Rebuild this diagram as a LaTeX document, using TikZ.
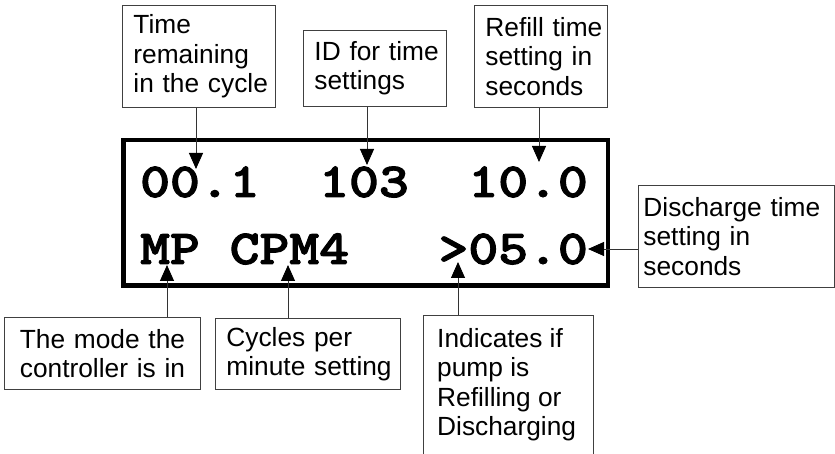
\documentclass[tikz,border=0pt]{standalone}
\usepackage{fontspec}
\usepackage{graphicx}
\setmainfont{Liberation Sans}
\newfontfamily\lcdfont{lmmonolt10-bold.otf}[FakeBold=2]
\usetikzlibrary{arrows.meta}
\newcommand\lcdline[1]{\scalebox{1.16}[1]{\lcdfont\fontsize{49pt}{49pt}\selectfont #1}}
\begin{document}
\begin{tikzpicture}[x=1pt,y=-1pt,
  lbl/.style={draw=black!75, line width=0.9pt, anchor=north west, align=left,
    inner ysep=0pt, inner xsep=11pt, font=\fontsize{26.3pt}{29.5pt}\selectfont},
  lcdbox/.style={draw=black, line width=4.5pt, minimum width=484.5pt,
    minimum height=145.5pt, inner sep=0pt},
  lcdtext/.style={anchor=base west, inner sep=0pt},
  arr/.style={draw=black!80, line width=0.9pt,
    -{Triangle[width=14pt,length=16pt,color=black]}}
]
\useasboundingbox (0,0) rectangle (835,454);
\clip (0,0) rectangle (835,454);

% LCD display
\node[lcdbox] (lcd) at (365.5,213) {};
\node[lcdtext] (r1) at (140,197) {\lcdline{00.1~~103~~10.0}};
\node[lcdtext] (r2) at (140,264) {\lcdline{MP~CPM4~~~>05.0}};

% label boxes
\node[lbl, text width=131pt, minimum height=102pt] (b1) at (122,5)
  {\mbox{Time}\\\mbox{remaining}\\\mbox{in the cycle}};
\node[lbl, text width=121pt, minimum height=76pt] (b2) at (303,30)
  {\mbox{ID for time}\\\mbox{settings}};
\node[lbl, text width=111pt, minimum height=102pt] (b3) at (474,5)
  {\mbox{Refill time}\\\mbox{setting in}\\\mbox{seconds}};
\node[lbl, inner xsep=5pt, text width=186pt, minimum height=102pt] (b4) at (638,185)
  {\mbox{Discharge time}\\\mbox{setting in}\\\mbox{seconds}};
\node[lbl, align=center, text width=174pt, minimum height=72pt] (b5) at (4,317)
  {\mbox{The mode the}\\\mbox{controller is in}};
\node[lbl, text width=163pt, minimum height=71pt] (b6) at (215,318)
  {\mbox{Cycles per}\\\mbox{minute setting}};
\node[lbl, inner xsep=0pt, minimum width=170pt, minimum height=150pt] (b7) at (423,315) {};
\node[anchor=north west, align=left, inner sep=0pt,
  font=\fontsize{26.3pt}{29.5pt}\selectfont] (t7) at (437,327.8)
  {\mbox{Indicates if}\\\mbox{pump is}\\\mbox{Refilling or}\\\mbox{Discharging}};

% arrow tips
\coordinate (p1) at (196,169);
\coordinate (p2) at (367,165);
\coordinate (p3) at (539,162);
\coordinate (p4) at (588,249);
\coordinate (p5) at (167,265);
\coordinate (p6) at (288,265);
\coordinate (p7) at (458,262);

\draw[arr] (b1.south -| p1) -- (p1);
\draw[arr] (b2.south -| p2) -- (p2);
\draw[arr] (b3.south -| p3) -- (p3);
\draw[arr] (b4.west |- p4) -- (p4);
\draw[arr] (b5.north -| p5) -- (p5);
\draw[arr] (b6.north -| p6) -- (p6);
\draw[arr] (b7.north -| p7) -- (p7);
\end{tikzpicture}
\end{document}
